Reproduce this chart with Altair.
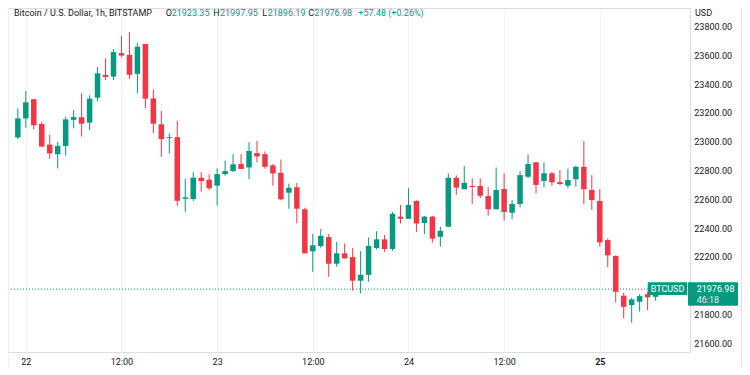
import altair as alt
import pandas as pd

# Hourly candles, 21 Jan 23:00 -> 25 Jan 07:00 (BITSTAMP BTC/USD, 1h)
times = pd.date_range("2023-01-21 23:00", periods=81, freq="h")

opens = [23030, 23162, 23295, 23123, 22980, 22913, 22971, 23152, 23170, 23132,
         23306, 23464, 23452, 23615, 23603, 23471, 23679, 23301, 23121, 23026,
         23032, 22604, 22602, 22750, 22736, 22695, 22775, 22796, 22845, 22821,
         22921, 22914, 22836, 22784, 22646, 22684, 22531, 22239, 22276, 22338,
         22153, 22225, 22199, 22035, 22076, 22262, 22322, 22255, 22480, 22465,
         22589, 22436, 22480, 22340, 22410, 22750, 22670, 22693, 22693, 22623,
         22531, 22672, 22507, 22568, 22757, 22857, 22727, 22781, 22720, 22695,
         22739, 22826, 22665, 22589, 22317, 22207, 21931, 21866, 21889, 21941,
         21923.35]
highs = [23232, 23352, 23299, 23139, 23048, 23000, 23173, 23220, 23336, 23322,
         23517, 23579, 23643, 23735, 23762, 23685, 23679, 23363, 23213, 23058,
         23146, 22741, 22789, 22789, 22773, 22815, 22868, 22914, 22914, 22997,
         23007, 22933, 22845, 22877, 22709, 22713, 22542, 22359, 22394, 22359,
         22304, 22294, 22261, 22240, 22335, 22379, 22352, 22512, 22561, 22677,
         22593, 22485, 22485, 22410, 22780, 22766, 22831, 22746, 22746, 22684,
         22821, 22780, 22596, 22796, 22912, 22857, 22857, 22791, 22803, 22814,
         22833, 23005, 22768, 22670, 22328, 22211, 21951, 21916, 21941, 21957,
         21997.95]
lows = [23019, 23097, 23086, 22966, 22882, 22814, 22903, 23093, 23036, 23082,
        23281, 23429, 23429, 23585, 23437, 23336, 23234, 23059, 22895, 22918,
        22555, 22514, 22589, 22653, 22664, 22556, 22764, 22789, 22810, 22741,
        22857, 22813, 22695, 22594, 22535, 22433, 22225, 22097, 22264, 22062,
        22132, 22190, 21965, 21947, 22028, 22253, 22236, 22243, 22432, 22465,
        22375, 22359, 22299, 22271, 22410, 22630, 22670, 22568, 22609, 22487,
        22531, 22452, 22461, 22544, 22746, 22642, 22684, 22693, 22700, 22677,
        22688, 22568, 22527, 22272, 22128, 21883, 21774, 21743, 21820, 21831,
        21896.19]
closes = [23162, 23274, 23114, 22966, 22919, 22971, 23155, 23171, 23125, 23299,
          23475, 23450, 23622, 23598, 23465, 23660, 23299, 23125, 23019, 23032,
          22590, 22614, 22750, 22727, 22677, 22775, 22796, 22843, 22811, 22936,
          22898, 22826, 22780, 22600, 22680, 22535, 22225, 22281, 22347, 22153,
          22225, 22190, 22035, 22076, 22277, 22322, 22255, 22500, 22465, 22561,
          22432, 22480, 22327, 22382, 22750, 22681, 22715, 22686, 22625, 22531,
          22665, 22512, 22568, 22768, 22845, 22700, 22781, 22718, 22706, 22734,
          22826, 22670, 22595, 22301, 22211, 21958, 21854, 21905, 21928, 21919.50,
          21976.98]

day_ticks = [0, 12, 24, 36, 48, 60, 72]
price_ticks = [21600, 21800, 22000, 22200, 22400, 22600, 22800, 23000, 23200, 23400, 23600, 23800]

GREEN = "#089981"
RED = "#f23645"
TEXT = "#131722"
GRID = "#f0f3fa"
FONT = "Roboto"

df = pd.DataFrame({"time": times, "open": opens, "high": highs, "low": lows, "close": closes})
df["hour"] = (df["time"] - pd.Timestamp("2023-01-22")).dt.total_seconds() / 3600
df["dir"] = ["up" if c >= o else "down" for o, c in zip(opens, closes)]
df = df.drop(columns=["time"])

last = closes[-1]

W, H = 682, 344
xscale = alt.Scale(domain=[-1.607, 82.69], nice=False, zero=False)
yscale = alt.Scale(domain=[21540, 23928.5], nice=False, zero=False)
cscale = alt.Scale(domain=["up", "down"], range=[GREEN, RED])

xaxis = alt.Axis(
    values=day_ticks,
    labelExpr="datum.value % 24 == 0 ? toString(22 + datum.value / 24) : '12:00'",
    grid=True, gridColor=GRID, ticks=False, domain=False,
    labelFontSize=9, labelColor=TEXT, labelPadding=5, labelFlush=False,
    labelFont=FONT, title=None, labelOverlap=False,
    labelFontWeight={"condition": {"test": "datum.value == 72", "value": "bold"}, "value": "normal"},
)
yaxis = alt.Axis(
    orient="right", values=price_ticks, labels=False,
    grid=True, gridColor=GRID, ticks=False, domain=False, title=None,
)

base = alt.Chart(df).encode(
    x=alt.X("hour:Q", scale=xscale, axis=xaxis),
    color=alt.Color("dir:N", scale=cscale, legend=None),
)

wicks = base.mark_rule(strokeWidth=1).encode(
    y=alt.Y("low:Q", scale=yscale, axis=yaxis), y2="high:Q"
)
bodies = base.mark_bar(size=5.5).encode(y=alt.Y("open:Q", axis=None), y2="close:Q")

# price-scale labels (drawn through the y scale)
ticks_df = pd.DataFrame({"price": price_ticks})
ticks_df["label"] = [("" if p == 22000 else f"{p:.2f}") for p in price_ticks]
price_labels = alt.Chart(ticks_df).mark_text(
    align="left", baseline="middle", fontSize=9, font=FONT, color=TEXT, dy=0.5
).encode(x=alt.value(686.3), y=alt.Y("price:Q", axis=None), text="label:N")

one = pd.DataFrame({"k": [0]})

usd = alt.Chart(one).mark_text(align="left", baseline="middle", fontSize=9, font=FONT, color=TEXT,
                               text="USD").encode(x=alt.value(687), y=alt.value(4.5))

dotted = alt.Chart(one).mark_rule(color=GREEN, strokeDash=[1, 2], strokeWidth=1).encode(
    y=alt.datum(last), x=alt.value(0), x2=alt.value(W)
)

chg = closes[-1] - closes[-2]
pct = chg / closes[-2] * 100
header_parts = [
    ("Bitcoin / U.S. Dollar, 1h, BITSTAMP", 6, TEXT),
    ("O", 157.7, TEXT), (f"{opens[-1]:.2f}", 163.7, GREEN),
    ("H", 205.3, TEXT), (f"{highs[-1]:.2f}", 212, GREEN),
    ("L", 254.3, TEXT), (f"{lows[-1]:.2f}", 259.7, GREEN),
    ("C", 300.3, TEXT), (f"{closes[-1]:.2f}", 306.3, GREEN),
    (f"{chg:+.2f} ({pct:+.2f}%)", 350.3, GREEN),
]
header_layers = [
    alt.Chart(one).mark_text(align="left", baseline="alphabetic", fontSize=9, font=FONT, color=col, text=t)
    .encode(x=alt.value(xp), y=alt.value(8))
    for t, xp, col in header_parts
]

price_box = alt.Chart(one).mark_rect(color=GREEN, yOffset=-6.7, y2Offset=16.7, cornerRadius=1).encode(
    x=alt.value(680), x2=alt.value(730), y=alt.datum(last), y2=alt.datum(last)
)
price_txt = alt.Chart(one).mark_text(align="left", baseline="middle", fontSize=9, font=FONT, color="white",
                                     text=f"{last:.2f}").encode(x=alt.value(688.7), y=alt.datum(last))
timer_txt = alt.Chart(one).mark_text(align="left", baseline="middle", fontSize=9, font=FONT, color="white",
                                     opacity=0.85, dy=10.7, text="46:18").encode(x=alt.value(688.7), y=alt.datum(last))
sym_box = alt.Chart(one).mark_rect(color=GREEN, yOffset=-6.7, y2Offset=6, cornerRadius=1).encode(
    x=alt.value(639.7), x2=alt.value(679.3), y=alt.datum(last), y2=alt.datum(last)
)
sym_txt = alt.Chart(one).mark_text(align="center", baseline="middle", fontSize=9, font=FONT, color="white",
                                   text="BTCUSD").encode(x=alt.value(659.5), y=alt.datum(last))

border_r = alt.Chart(one).mark_rule(color="#e0e3eb", strokeWidth=1).encode(
    x=alt.value(733.5), y=alt.value(0), y2=alt.value(372)
)
border_l = alt.Chart(one).mark_rule(color="#eceef3", strokeWidth=1).encode(
    x=alt.value(0.5), y=alt.value(0), y2=alt.value(372)
)

chart = alt.layer(
    dotted, wicks, bodies, price_labels, usd, *header_layers,
    sym_box, sym_txt, price_box, price_txt, timer_txt, border_r, border_l
).properties(
    width=W, height=H,
    autosize=alt.AutoSizeParams(type="none"),
    padding={"left": 0, "top": 0, "right": 52, "bottom": 15},
    background="white",
).configure_view(strokeWidth=0).configure(font=FONT)

chart.save("out.html", embed_options={"renderer": "svg", "actions": False})
